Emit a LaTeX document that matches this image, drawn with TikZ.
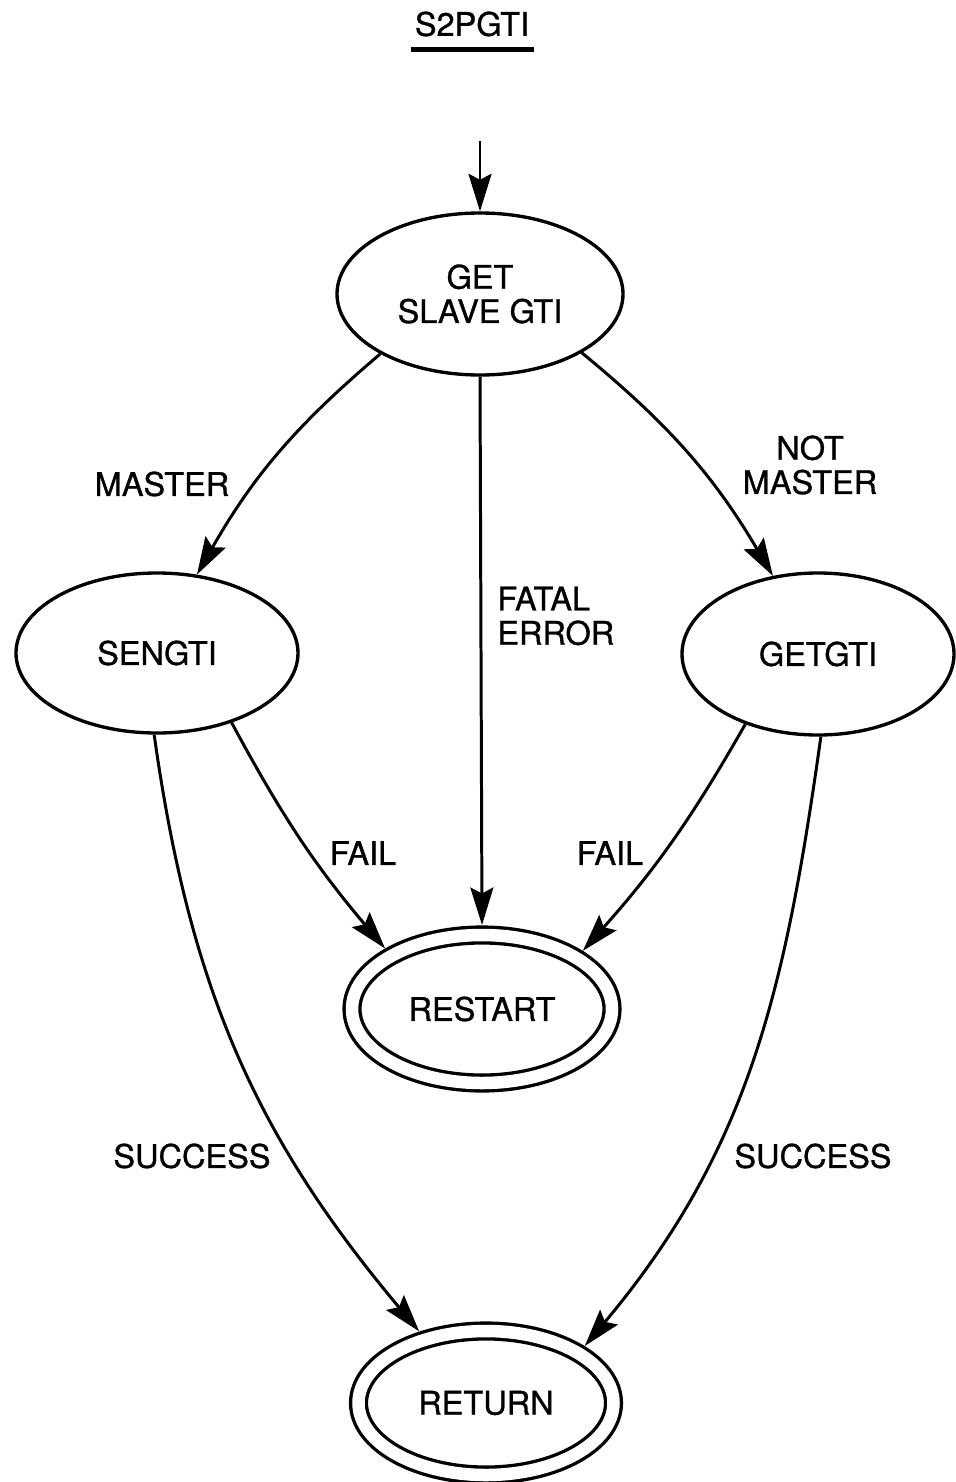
\documentclass[tikz,border=0pt]{standalone}
\usepackage{fontspec}
\setmainfont{TeX Gyre Heros}[FakeBold=0.9]
\usetikzlibrary{arrows.meta}
\usetikzlibrary{positioning}
\usetikzlibrary{shapes.geometric}

\begin{document}
\begin{tikzpicture}[every node/.style = {font=\fontsize{18.5}{19.5}\selectfont}]
  \tikzset{state/.style = {shape=ellipse,draw,line width=1.9pt,inner sep=0pt,align=center}}
  \tikzset{final/.style = {state,double,double distance=0.25cm,outer sep=0.2cm,minimum width=5.2cm,minimum height=2.96cm}}
  \tikzset{edge/.style = {-{Stealth[length=7.5mm,width=4.6mm,inset=1.2mm]},line width=1.7pt}}
  \tikzset{lbl/.style = {inner sep=0pt,align=center}}

  \useasboundingbox (0,0) rectangle (19.1,-29.64);

  \node[lbl] (title) at (9.44,-0.48) {S2PGTI};
  \draw[line width=3pt] ([shift={(-0.08,-0.28)}]title.base west) -- ([shift={(0.1,-0.28)}]title.base east);

  \node[state,minimum width=5.72cm,minimum height=3.24cm] (get) at (9.6,-5.88) {GET\\SLAVE GTI};
  \coordinate[above=1.4cm of get.north] (entry);
  \node[state,minimum width=5.64cm,minimum height=3.2cm] (sen) at (3.14,-13.06) {SENGTI};
  \node[state,minimum width=5.44cm,minimum height=3.24cm] (gtg) at (16.36,-13.08) {GETGTI};
  \node[final] (rst) at (9.64,-20.18) {RESTART};
  \node[final,minimum width=5.1cm,minimum height=2.88cm] (ret) at (9.72,-28.06) {RETURN};

  \draw[edge] (entry) -- (get);
  \draw[edge] (get.211) to[bend right=10] (sen.63);
  \draw[edge] (get.330) to[bend left=10] (gtg.120);
  \draw[edge] (get.south) -- (rst.north);
  \draw[edge] (sen.317) to[bend right=6] (rst.148);
  \draw[edge] (gtg.224) to[bend left=6] (rst.30);
  \draw[edge] (sen.268) to[out=-82,in=130] (ret.133);
  \draw[edge] (gtg.272) to[out=-98,in=50] (ret.30);

  \node[lbl] (master) at (3.24,-9.68) {MASTER};
  \node[lbl] (notmaster) at (16.2,-9.3) {NOT\\MASTER};
  \node[lbl,anchor=west,align=left] (fatal) at (9.94,-12.32) {FATAL\\ERROR};
  \node[lbl] (failsen) at (7.26,-17.06) {FAIL};
  \node[lbl] (failgtg) at (12.2,-17.06) {FAIL};
  \node[lbl] (succsen) at (3.84,-23.12) {SUCCESS};
  \node[lbl] (succgtg) at (16.26,-23.12) {SUCCESS};

\end{tikzpicture}
\end{document}
